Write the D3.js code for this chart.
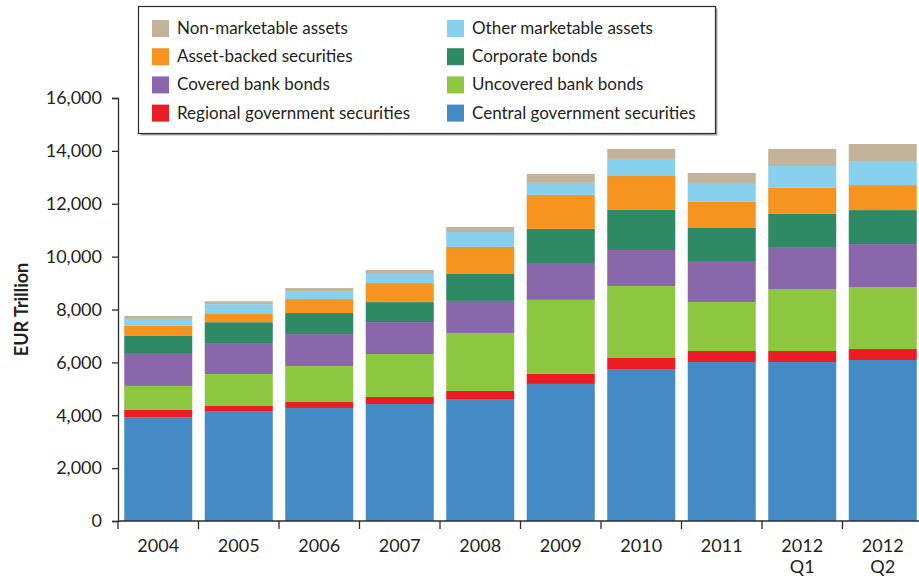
<!DOCTYPE html>
<html>
<head>
<meta charset="utf-8">
<script src="https://cdn.jsdelivr.net/npm/d3@7"></script>
<style>
  html, body { margin: 0; padding: 0; background: #fff; }
  svg { display: block; font-family: Lato, "Open Sans", sans-serif; }
</style>
</head>
<body>
<svg id="chart" width="919" height="576"></svg>
<script>
// Periods on the horizontal axis ("\n" splits a label onto two lines)
const periods = ["2004", "2005", "2006", "2007", "2008", "2009", "2010", "2011", "2012\nQ1", "2012\nQ2"];

// Eligible marketable and non-marketable assets, EUR, by type
const centralGov    = [3930, 4160, 4275, 4425, 4615, 5185, 5750, 6015, 6015, 6090];
const regionalGov   = [ 270,  190,  225,  265,  305,  380,  415,  415,  415,  415];
const uncoveredBank = [ 910, 1210, 1360, 1625, 2195, 2800, 2725, 1855, 2345, 2345];
const coveredBank   = [1210, 1170, 1210, 1210, 1210, 1360, 1360, 1550, 1590, 1625];
const corporate     = [ 680,  790,  795,  755, 1020, 1325, 1515, 1250, 1250, 1285];
const assetBacked   = [ 380,  340,  530,  720, 1020, 1285, 1285,  985,  985,  945];
const otherMkt      = [ 265,  340,  300,  380,  565,  455,  645,  680,  830,  910];
const nonMkt        = [ 110,  115,  115,  115,  190,  340,  380,  415,  645,  645];

const yTicks = [0, 2000, 4000, 6000, 8000, 10000, 12000, 14000, 16000];

// Series from the bottom of each stack to the top
const series = [
  { key: "central",   name: "Central government securities",  color: "#448bc6", values: centralGov },
  { key: "regional",  name: "Regional government securities", color: "#ed1c24", values: regionalGov },
  { key: "uncovered", name: "Uncovered bank bonds",           color: "#8dc63f", values: uncoveredBank },
  { key: "covered",   name: "Covered bank bonds",             color: "#8a67ab", values: coveredBank },
  { key: "corporate", name: "Corporate bonds",                color: "#2e8965", values: corporate },
  { key: "abs",       name: "Asset-backed securities",        color: "#f7941f", values: assetBacked },
  { key: "other",     name: "Other marketable assets",        color: "#87d0ee", values: otherMkt },
  { key: "nonmkt",    name: "Non-marketable assets",          color: "#c2b49a", values: nonMkt }
];

// Legend layout: two columns, four rows
const legendLeft  = ["nonmkt", "abs", "covered", "regional"];
const legendRight = ["other", "corporate", "uncovered", "central"];

const svg = d3.select("#chart");
const axisColor = "#2b2b2b";
const textColor = "#231f20";

const rows = periods.map((p, i) => {
  const r = { period: p };
  series.forEach(s => { r[s.key] = s.values[i]; });
  return r;
});

const stacked = d3.stack().keys(series.map(s => s.key))(rows);

const x = d3.scaleBand()
  .domain(periods)
  .range([118, 923])
  .paddingInner(0.155)
  .paddingOuter(0.0775);

const y = d3.scaleLinear().domain([0, 16000]).range([521, 98]);

// Stacked bars
const colorOf = Object.fromEntries(series.map(s => [s.key, s.color]));
svg.append("g")
  .selectAll("g")
  .data(stacked)
  .join("g")
  .attr("fill", d => colorOf[d.key])
  .selectAll("rect")
  .data(d => d)
  .join("rect")
  .attr("x", d => x(d.data.period))
  .attr("width", x.bandwidth())
  .attr("y", d => y(d[1]))
  .attr("height", d => y(d[0]) - y(d[1]));

// Y axis
const yAxis = svg.append("g")
  .attr("transform", "translate(118,0)")
  .call(d3.axisLeft(y).tickValues(yTicks).tickFormat(d3.format(",")).tickSize(6).tickPadding(10));
yAxis.select(".domain").attr("stroke", axisColor).attr("stroke-width", 1.3);
yAxis.selectAll(".tick line").attr("stroke", axisColor).attr("stroke-width", 1.3);
yAxis.selectAll(".tick text")
  .attr("fill", textColor)
  .style("font-family", "Lato, sans-serif")
  .style("font-size", "18px");

// Y axis title
svg.append("text")
  .attr("transform", "translate(28," + y(8000) + ") rotate(-90)")
  .attr("text-anchor", "middle")
  .attr("fill", textColor)
  .style("font-weight", "bold")
  .style("font-size", "18px")
  .text("EUR Trillion");

// X axis: baseline, boundary ticks and period labels
const step = x.step();
const xAxis = svg.append("g");
xAxis.append("line")
  .attr("x1", 118).attr("x2", 919)
  .attr("y1", y(0)).attr("y2", y(0))
  .attr("stroke", axisColor).attr("stroke-width", 1.3);
xAxis.selectAll("line.tick")
  .data(periods)
  .join("line")
  .attr("class", "tick")
  .attr("x1", d => x(d) - (step - x.bandwidth()) / 2)
  .attr("x2", d => x(d) - (step - x.bandwidth()) / 2)
  .attr("y1", y(0)).attr("y2", y(0) + 8)
  .attr("stroke", axisColor).attr("stroke-width", 1.3);
const labels = xAxis.selectAll("text")
  .data(periods)
  .join("text")
  .attr("text-anchor", "middle")
  .attr("fill", textColor)
  .style("font-size", "18px");
labels.each(function(d) {
  const cx = x(d) + x.bandwidth() / 2;
  d3.select(this).selectAll("tspan")
    .data(d.split("\n"))
    .join("tspan")
    .attr("x", cx)
    .attr("y", (t, i) => 552 + i * 21)
    .text(t => t);
});

// Legend box with a soft shadow
const lg = svg.append("g");
lg.append("rect")
  .attr("x", 140.5).attr("y", 8.5).attr("width", 577).attr("height", 127)
  .attr("fill", "#a6a6a6");
lg.append("rect")
  .attr("x", 138.5).attr("y", 6.5).attr("width", 577).attr("height", 127)
  .attr("fill", "#fff").attr("stroke", axisColor).attr("stroke-width", 1.2);

const byKey = Object.fromEntries(series.map(s => [s.key, s]));
[[legendLeft, 152], [legendRight, 447]].forEach(([keys, lx]) => {
  const item = lg.append("g").selectAll("g")
    .data(keys.map(k => byKey[k]))
    .join("g")
    .attr("transform", (d, i) => "translate(" + lx + "," + (20 + i * 28.2) + ")");
  item.append("rect")
    .attr("width", 17).attr("height", 17)
    .attr("fill", d => d.color);
  item.append("text")
    .attr("x", 25).attr("y", 14)
    .attr("fill", textColor)
    .style("font-size", "17px")
    .text(d => d.name);
});
</script>
</body>
</html>
